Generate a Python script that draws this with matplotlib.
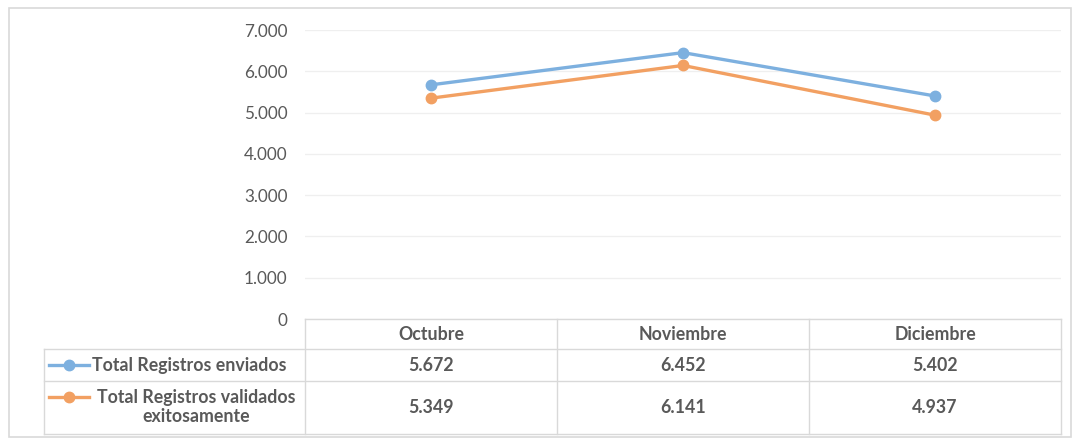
import numpy as np
import matplotlib.pyplot as plt
from matplotlib.lines import Line2D
from matplotlib.patches import Rectangle
import matplotlib.transforms as mtransforms

months = ['Octubre', 'Noviembre', 'Diciembre']
enviados = [5672, 6452, 5402]
validados = [5349, 6141, 4937]
series_names = ['Total Registros enviados', 'Total Registros validados\nexitosamente']
series_colors = ['#7db0df', '#f2a062']
yticks = [0, 1000, 2000, 3000, 4000, 5000, 6000, 7000]

W, H = 1073, 440
plt.rcParams['font.family'] = ['Lato', 'DejaVu Sans']
text_color = '#595959'
grid_color = '#d9d9d9'
fs = 12.8

fig = plt.figure(figsize=(W / 100, H / 100), dpi=100)


def fx(px):
    return px / W


def fy(py):
    return 1 - py / H


ax = fig.add_axes([fx(305), fy(319), fx(1061) - fx(305), fy(30) - fy(319)])
x = np.arange(len(months))
for vals, c in zip([enviados, validados], series_colors):
    ax.plot(x, vals, color=c, lw=2.4, marker='o', ms=7.5, solid_capstyle='round')

ax.set_xlim(-0.5, len(months) - 0.5)
ax.set_ylim(0, 7000)
ax.set_yticks(yticks)
ax.set_yticklabels([f'{v:,}'.replace(',', '.') for v in yticks])
ax.tick_params(axis='y', length=0, pad=12.5, labelsize=12.3, labelcolor=text_color)
ax.tick_params(axis='x', length=0, labelbottom=False)
ax.grid(axis='y', color='#efefef', lw=0.9)
ax.set_axisbelow(True)
for s in ax.spines.values():
    s.set_visible(False)

# data table below the plot
trans = mtransforms.blended_transform_factory(ax.transData, fig.transFigure)
line_kw = dict(color=grid_color, lw=1.0, transform=fig.transFigure)
fig.add_artist(Line2D([fx(305), fx(1061)], [fy(319), fy(319)], **line_kw))
for py in [349, 381, 434]:
    fig.add_artist(Line2D([fx(44), fx(1061)], [fy(py), fy(py)], **line_kw))
fig.add_artist(Line2D([fx(44), fx(44)], [fy(349), fy(434)], **line_kw))
for i in range(len(months) + 1):
    vx = fx(305) + i * (fx(1061) - fx(305)) / len(months)
    fig.add_artist(Line2D([vx, vx], [fy(319), fy(434)], **line_kw))

tkw = dict(ha='center', va='center', fontsize=fs, color=text_color,
           fontweight='bold', transform=trans)
for i, m in enumerate(months):
    fig.text(i, fy(334), m, **tkw)
    fig.text(i, fy(365), f'{enviados[i]:,}'.replace(',', '.'), **tkw)
    fig.text(i, fy(407), f'{validados[i]:,}'.replace(',', '.'), **tkw)

# legend keys and series names
for name, c, ky, ty in zip(series_names, series_colors, [365, 397], [365, 407]):
    fig.add_artist(Line2D([fx(49), fx(89)], [fy(ky), fy(ky)], color=c, lw=2.4,
                          transform=fig.transFigure))
    fig.add_artist(Line2D([fx(69)], [fy(ky)], color=c, marker='o', ms=7.5,
                          transform=fig.transFigure))
    two = '\n' in name
    fig.text(fx(196) if two else fx(92), fy(ty), name,
             ha='center' if two else 'left', va='center',
             multialignment='center', fontsize=fs, color=text_color,
             fontweight='bold', linespacing=1.2)

# outer chart border
fig.add_artist(Rectangle((fx(9), fy(437)), fx(1071) - fx(9), fy(8) - fy(437),
                         fill=False, ec='#d9d9d9', lw=1.2, transform=fig.transFigure))

fig.savefig('out.png', dpi=100)
